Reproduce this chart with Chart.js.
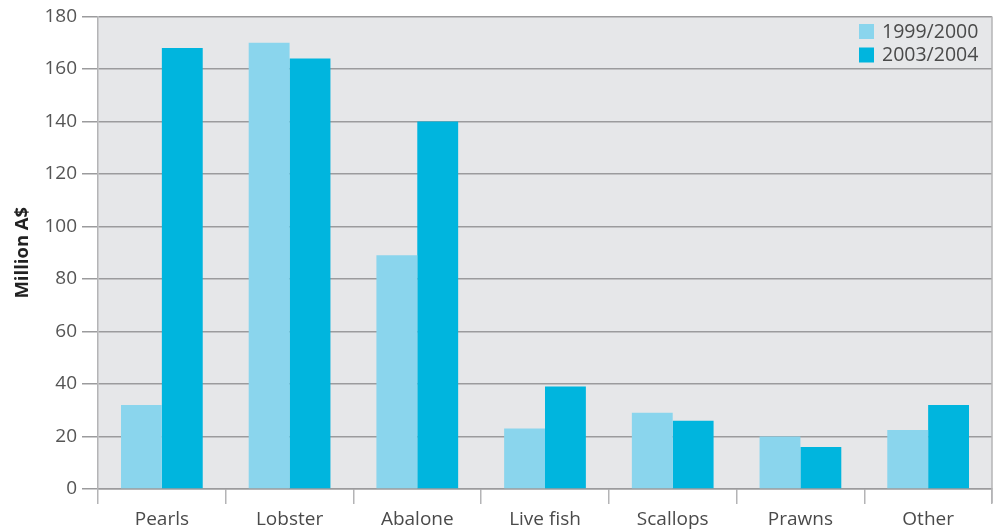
<!DOCTYPE html>
<html>
<head>
<meta charset="utf-8">
<script src="https://cdn.jsdelivr.net/npm/chart.js@4.4.1/dist/chart.umd.min.js"></script>
<style>
  html, body { margin: 0; padding: 0; background: #fff; }
  #wrap { width: 997px; height: 529px; position: relative; }
</style>
</head>
<body>
<div id="wrap"><canvas id="exportChart"></canvas></div>
<script>
/* export value by product, million A$ */
var categories = ['Pearls', 'Lobster', 'Abalone', 'Live fish', 'Scallops', 'Prawns', 'Other'];
var values1999 = [32, 170, 89, 23, 29, 20, 22.5];
var values2003 = [168, 164, 140, 39, 26, 16, 32];
var seriesLabels = ['1999/2000', '2003/2004'];
var yTicks = [0, 20, 40, 60, 80, 100, 120, 140, 160, 180];

var FONT = '"Open Sans", "DejaVu Sans", sans-serif';

/* grey plot background plus right edge */
var plotFrame = {
    id: 'plotFrame',
    beforeDraw: function (chart) {
        var a = chart.chartArea, ctx = chart.ctx;
        ctx.save();
        ctx.fillStyle = '#e6e7e9';
        ctx.fillRect(a.left, a.top, a.right - a.left, a.bottom - a.top);
        ctx.restore();
    },
    afterDraw: function (chart) {
        var a = chart.chartArea, ctx = chart.ctx;
        ctx.save();
        ctx.strokeStyle = '#b4b4b6';
        ctx.lineWidth = 1.5;
        ctx.beginPath();
        ctx.moveTo(a.right, a.top);
        ctx.lineTo(a.right, a.bottom + 14);
        ctx.stroke();
        ctx.restore();
    }
};

/* legend drawn inside the plot, top right */
var insideLegend = {
    id: 'insideLegend',
    afterDatasetsDraw: function (chart) {
        var ctx = chart.ctx;
        ctx.save();
        ctx.font = '19.5px ' + FONT;
        ctx.textBaseline = 'middle';
        ctx.textAlign = 'left';
        chart.data.datasets.forEach(function (ds, i) {
            var cy = 32 + i * 23.5;
            ctx.fillStyle = ds.backgroundColor;
            ctx.fillRect(859, cy - 8, 15, 15);
            ctx.fillStyle = '#4a4a4a';
            ctx.fillText(ds.label, 882, cy);
        });
        ctx.restore();
    }
};

new Chart(document.getElementById('exportChart').getContext('2d'), {
    type: 'bar',
    data: {
        labels: categories,
        datasets: [
            { label: seriesLabels[0], data: values1999, backgroundColor: '#8ad5ed',
              categoryPercentage: 0.64, barPercentage: 1.0 },
            { label: seriesLabels[1], data: values2003, backgroundColor: '#00b5de',
              categoryPercentage: 0.64, barPercentage: 1.0 }
        ]
    },
    options: {
        responsive: true,
        maintainAspectRatio: false,
        animation: false,
        layout: { padding: { left: 0, top: 11, right: 5, bottom: 0 } },
        plugins: {
            legend: { display: false },
            tooltip: { enabled: false }
        },
        scales: {
            x: {
                offset: true,
                grid: { offset: true, drawOnChartArea: false, drawTicks: true, tickLength: 15,
                        color: '#b4b4b6', lineWidth: 1.5 },
                border: { display: true, color: '#9b9b9d', width: 1.5 },
                ticks: { color: '#4a4a4a', font: { family: FONT, size: 19 }, padding: 4 },
                afterFit: function (s) { s.height = 40; }
            },
            y: {
                min: 0,
                max: 180,
                afterBuildTicks: function (s) { s.ticks = yTicks.map(function (v) { return { value: v }; }); },
                grid: { color: '#9b9b9d', lineWidth: 1.5, tickLength: 16 },
                border: { display: true, color: '#b4b4b6', width: 1.5 },
                ticks: { color: '#555', font: { family: FONT, size: 19 }, padding: 5 },
                title: { display: true, text: 'Million A$', color: '#222',
                         font: { family: FONT, size: 18.5, weight: 'bold' }, padding: { top: 12, bottom: 0 } },
                afterFit: function (s) { s.width = 98; }
            }
        }
    },
    plugins: [plotFrame, insideLegend]
});
</script>
</body>
</html>
